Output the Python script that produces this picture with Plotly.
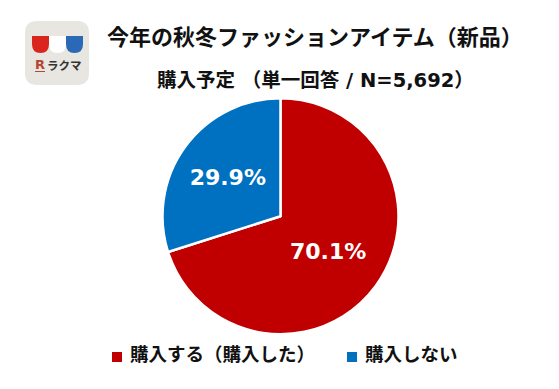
import plotly.graph_objects as go

categories = ["購入する（購入した）", "購入しない"]
values = [70.1, 29.9]
slice_labels = ["70.1%", "29.9%"]
colors = ["#C00000", "#0070C0"]
title_line1 = "今年の秋冬ファッションアイテム（新品）"
title_line2 = "購入予定 （単一回答 / N=5,692）"
# The page body has an 8px margin: the figure is 8px smaller and everything is specified in window pixels.
M = 8
W, H = 559 - M, 389 - M
FONT = "DejaVu Sans, Noto Sans CJK JP, sans-serif"
CJK = "Noto Sans CJK JP, sans-serif"

def px(x): return (x - M) / W
def py(y): return 1 - (y - M) / H

fig = go.Figure(go.Pie(
    labels=categories, values=values, text=slice_labels, textinfo="text",
    textposition="inside", insidetextorientation="horizontal",
    textfont=dict(color="white", size=22, family="DejaVu Sans", weight="bold"),
    marker=dict(colors=colors, line=dict(color="white", width=2.5)),
    sort=False, direction="clockwise", rotation=0,
    domain=dict(x=[px(162.5), px(398.5)], y=[py(334.5), py(98)]),
    showlegend=False,
))

def rounded(x0, y0, x1, y1, r):
    return (f"M {px(x0+r)} {py(y0)} L {px(x1-r)} {py(y0)} Q {px(x1)} {py(y0)} {px(x1)} {py(y0+r)} "
            f"L {px(x1)} {py(y1-r)} Q {px(x1)} {py(y1)} {px(x1-r)} {py(y1)} "
            f"L {px(x0+r)} {py(y1)} Q {px(x0)} {py(y1)} {px(x0)} {py(y1-r)} "
            f"L {px(x0)} {py(y0+r)} Q {px(x0)} {py(y0)} {px(x0+r)} {py(y0)} Z")

def cup(x0, x1, y0, y1):
    xm = (x0 + x1) / 2
    return (f"M {px(x0)} {py(y0)} L {px(x1)} {py(y0)} L {px(x1)} {py(y1-9)} "
            f"Q {px(x1)} {py(y1)} {px(xm)} {py(y1)} Q {px(x0)} {py(y1)} {px(x0)} {py(y1-9)} Z")

def box(x0, y0, x1, y1, color):
    return dict(type="rect", x0=px(x0), x1=px(x1), y0=py(y1), y1=py(y0), fillcolor=color, line_width=0)

shapes = [
    dict(type="path", path=rounded(25, 21, 89, 85, 12), fillcolor="#E8E6E1", line_width=0),
    dict(type="path", path=cup(32, 49, 36, 53), fillcolor="#D9251D", line_width=0),
    dict(type="path", path=cup(49, 66, 36, 53), fillcolor="#FFFFFF", line_width=0),
    dict(type="path", path=cup(66, 83, 36, 53), fillcolor="#2B68B5", line_width=0),
    box(35, 71, 45, 72, "#B5472F"),
    box(112, 352, 122, 362, colors[0]),
    box(347, 352, 357, 362, colors[1]),
]
for s in shapes:
    s.update(xref="paper", yref="paper")

def note(text, x, y, size, color="#111111", family=FONT, anchor="center", weight="bold"):
    return dict(text=text, x=px(x), y=py(y), xref="paper", yref="paper", showarrow=False,
                xanchor=anchor, yanchor="middle",
                font=dict(size=size, color=color, family=family, weight=weight))

annotations = [
    note(title_line1, 315, 35, 22, family=CJK, weight="bold"),
    note(title_line2, 315, 80, 19.5),
    note("R", 39.5, 64, 13, color="#B5472F"),
    note("ラクマ", 64, 65, 11.5, color="#333333", family=CJK),
    note(categories[0], 127.5, 354, 18.5, anchor="left"),
    note(categories[1], 362.5, 354, 18.5, anchor="left"),
]

fig.update_layout(
    width=W, height=H, margin=dict(l=0, r=0, t=0, b=0),
    paper_bgcolor="white", plot_bgcolor="white",
    shapes=shapes, annotations=annotations,
)
fig.write_html("out.html")
